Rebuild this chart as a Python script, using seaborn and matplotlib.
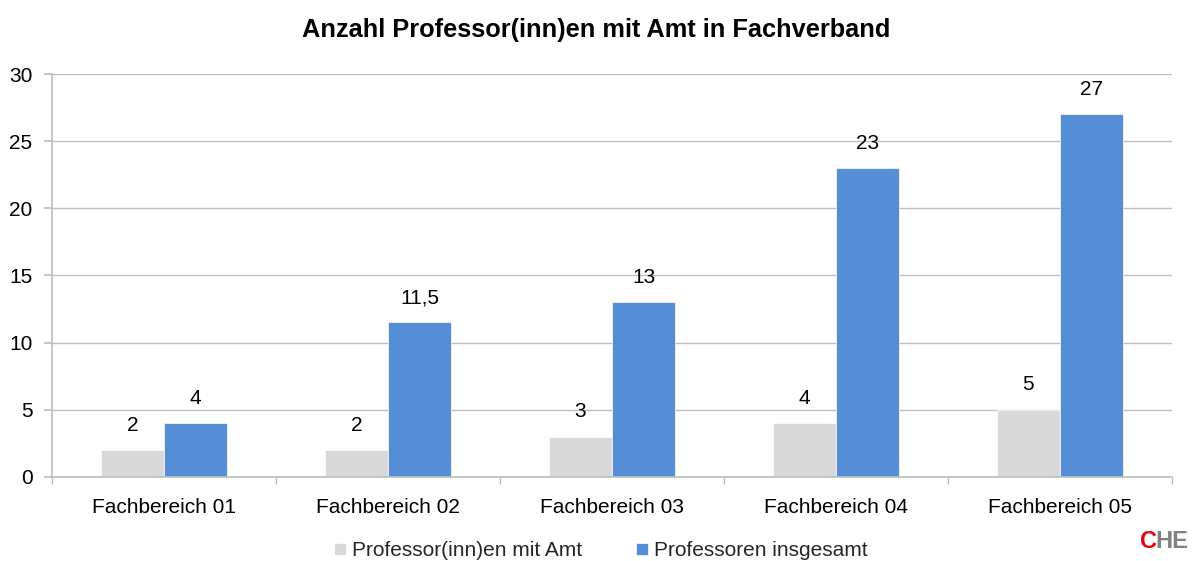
import matplotlib
matplotlib.use("Agg")
import matplotlib.pyplot as plt
import seaborn as sns
import pandas as pd
import numpy as np

categories = ["Fachbereich 01", "Fachbereich 02", "Fachbereich 03", "Fachbereich 04", "Fachbereich 05"]
series_names = ["Professor(inn)en mit Amt", "Professoren insgesamt"]
mit_amt = [2, 2, 3, 4, 5]
insgesamt = [4, 11.5, 13, 23, 27]
colors = ["#D9D9D9", "#558ED5"]

df = pd.DataFrame({
    "Kategorie": categories * 2,
    "Serie": [series_names[0]] * len(categories) + [series_names[1]] * len(categories),
    "Wert": mit_amt + insgesamt,
})

sns.set_theme(style="white")
plt.rcParams["font.family"] = ["Liberation Sans", "DejaVu Sans"]

FS = 15

fig = plt.figure(figsize=(11.92, 5.61), dpi=100)
ax = fig.add_axes([0.0436, 0.150, 0.9396, 0.718])

sns.barplot(data=df, x="Kategorie", y="Wert", hue="Serie", palette=colors,
            width=0.565, gap=0.0, ax=ax, legend=True, saturation=1,
            edgecolor="white", linewidth=0.5)

ax.set_ylim(0, 30)
ax.set_xlim(-0.5, len(categories) - 0.5)
ax.set_yticks(range(0, 31, 5))
ax.yaxis.grid(True, color="#BFBFBF", linewidth=1)
ax.set_axisbelow(True)
for s in ["top", "right"]:
    ax.spines[s].set_visible(False)
ax.spines["left"].set_color("#BFBFBF")
ax.spines["bottom"].set_color("#BFBFBF")
ax.tick_params(axis="y", left=True, length=6, color="#BFBFBF", labelsize=FS, labelcolor="black", pad=8)
ax.tick_params(axis="x", bottom=False, labelsize=FS, labelcolor="black", pad=9)
ax.set_xticks(np.arange(-0.5, len(categories), 1), minor=True)
ax.tick_params(axis="x", which="minor", bottom=True, length=5, color="#BFBFBF")
ax.set_xlabel("")
ax.set_ylabel("")

def fmt(v):
    if float(v).is_integer():
        return f"{int(v)}"
    return f"{v}".replace(".", ",")

for cont in ax.containers:
    labels = [fmt(b.get_height()) for b in cont]
    ax.bar_label(cont, labels=labels, padding=11, fontsize=FS, color="black")

leg = ax.legend(loc="upper center", bbox_to_anchor=(0.49, -0.15), ncol=2, frameon=False,
                fontsize=FS, handlelength=0.55, handleheight=0.55, handletextpad=0.3,
                columnspacing=2.6, borderaxespad=0.0, borderpad=0.2)

fig.text(0.5, 0.947, "Anzahl Professor(inn)en mit Amt in Fachverband", ha="center", va="center",
         fontsize=18.3, fontweight="bold", color="black")

fig.text(0.956, 0.014, "C", color="#E30613", fontsize=17, fontweight="bold", ha="left", va="bottom")
fig.text(0.9695, 0.014, "HE", color="#808080", fontsize=17, fontweight="bold", ha="left", va="bottom")

fig.savefig("out.png", dpi=100)
